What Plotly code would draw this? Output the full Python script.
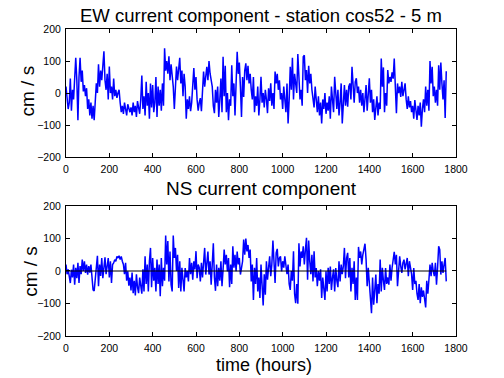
import plotly.graph_objects as go

step_hours = 5

ew_values = [
    20, -15, -50, -30, 45, -55, 10, -20, 30, 110,
    40, -85, 50, 110, 35, 70, 5, 25, -10, 15,
    -50, -20, -70, -30, -80, -40, -85, -10, 30, 0,
    90, 20, 70, 40, 96, 130, 40, 10, 60, -20,
    83, 0, 20, -20, 45, -10, 10, -15, 0, 10,
    -30, -60, -40, -65, -30, -55, -70, -35, -50, -60,
    -45, -70, -30, -60, -40, -75, -25, -55, -65, -20,
    55, -50, -10, -70, 35, -40, 0, -80, 30, -45,
    25, -60, -30, 50, -75, 20, -40, 10, -55, 30,
    -40, 140, 70, 100, 60, 115, 40, 90, 50, 20,
    -50, 30, 83, 40, 75, 110, 30, 70, -10, 60,
    20, -80, -20, -50, -10, -57, -30, 40, 78, 10,
    50, -20, -55, -30, -16, -57, 30, 67, 20, 60,
    82, 40, 100, 61, 45, 20, -40, -63, 10, -30,
    20, -75, -20, 45, -60, 113, -10, 85, -60, 0,
    -85, -20, -40, 87, -10, 30, -70, 10, 129, 60,
    95, 20, -75, 50, -12, 70, 93, 40, 85, 30,
    60, 10, -20, 50, -60, -10, -40, 20, -70, -20,
    51, -30, 0, -45, 10, -20, -63, 15, -25, 30,
    -40, 0, -50, 67, 30, 60, 10, 40, -20, 0,
    -50, 20, -30, -60, 30, -95, -20, 82, 10, 110,
    -20, 60, 30, 0, 122, 40, -20, 10, -40, 113,
    118, 40, 72, 0, 85, 30, 60, 10, -20, -45,
    20, -40, -60, -10, -70, -30, -95, -20, -50, 0,
    -65, -30, -55, -10, -80, 20, -40, -60, 51, -20,
    -50, 10, -70, -30, 30, -95, -20, 25, -40, 10,
    -43, 20, 30, -20, 82, 10, -30, 35, 46, 0,
    20, -30, 10, -40, 0, -60, -20, 25, -55, -10,
    46, -30, 10, -60, -20, -84, -40, -10, -70, -30,
    -50, 108, 20, 80, -60, 0, -40, 72, 30, 50,
    35, 65, 45, 108, 20, -63, 30, 0, 20, -12,
    35, -10, 10, 30, -20, -50, -10, -45, -25, -60,
    -40, -80, -22, -60, -84, -40, -70, -30, -105, -50,
    -20, -60, 20, -40, 10, -55, 100, 30, 82, -10,
    20, -30, 10, -40, 87, 10, 95, 30, -20, 40,
    -78, 68,
]

ns_values = [
    20, -10, 5, -22, -37, 4, -20, 20, -42, 10,
    -22, 25, -37, 15, -10, 35, 0, 30, -6, 20,
    -11, 15, -5, 20, -30, -58, -61, -20, 10, 47,
    -47, 20, -15, 40, -22, 10, 42, -10, 25, 40,
    -20, 30, -37, 20, 25, 35, 30, 45, 40, 47,
    35, 45, 30, 20, -10, 25, -30, -1, -45, -20,
    -60, -5, -68, -30, -75, -10, -50, -68, -20, -55,
    -70, 5, -63, 45, -40, 20, -63, 30, 71, -50,
    40, -30, 10, -63, 35, -40, 20, -78, 40, -47,
    10, -30, 109, 20, 92, -32, 60, -42, -63, 109,
    40, 71, 0, 50, -52, 30, -63, 10, -32, -63,
    9, -20, 0, -32, 40, -10, 25, -27, 30, 5,
    61, -22, 20, 10, -32, 25, -20, 15, 71, -11,
    40, 60, -11, 30, -42, 40, 85, -20, -61, 20,
    -47, 10, -30, 30, -47, 5, 66, 20, 50, -1,
    40, -50, 20, -40, 76, 10, 50, -1, 60, 20,
    40, -11, 20, 30, 97, 50, 100, 60, 80, 40,
    66, -32, 20, -89, 10, -40, 40, -63, -20, -83,
    20, -50, -106, -10, -73, 30, -27, 10, 45, -16,
    20, 94, 30, -37, 56, 68, 14, 40, 45, -1,
    30, 10, 45, 20, -10, 20, -40, -58, 0, -30,
    61, -70, -99, -40, -101, 85, 14, 60, 40, 76,
    20, 66, 102, -27, 94, 30, -10, 50, -32, 61,
    -20, 9, -47, 0, -30, 5, -83, -20, -63, -89,
    -1, -63, 10, -40, 14, -58, -20, 5, -63, 9,
    -30, -50, 30, -32, 20, -10, 15, 71, -22, 40,
    56, -20, 40, -63, 10, -40, 30, -89, -20, -89,
    74, 40, 60, 20, 50, 76, 84, 35, -47, 10,
    -30, -73, -130, -20, -104, -60, -11, -99, -40, -70,
    35, -63, 10, -30, -58, 9, -40, -20, -42, 20,
    -30, 10, 45, 59, 20, 50, -47, 9, 45, 15,
    -6, 25, 35, 5, 20, 40, -16, 30, 10, -10,
    -58, 9, -40, -30, -70, -89, -40, -99, -50, -80,
    -60, -89, -112, -30, -70, -27, 20, -16, 25, 0,
    -16, 25, -42, 10, 76, 66, -11, 30, -6, 20,
    40, -32,
]

x_ticks = [0, 200, 400, 600, 800, 1000, 1200, 1400, 1600, 1800]
y_ticks = [-200, -100, 0, 100, 200]

top_title = "EW current component - station cos52 - 5 m"
bottom_title = "NS current component"
y_label = "cm / s"
x_label = "time (hours)"

hours_ew = [i * step_hours for i in range(len(ew_values))]
hours_ns = [i * step_hours for i in range(len(ns_values))]

fig = go.Figure()
fig.add_trace(go.Scatter(x=hours_ew, y=ew_values, mode="lines",
                         line=dict(color="#0000FF", width=1.5), xaxis="x", yaxis="y",
                         showlegend=False, hoverinfo="skip"))
fig.add_trace(go.Scatter(x=hours_ns, y=ns_values, mode="lines",
                         line=dict(color="#0000FF", width=1.5), xaxis="x2", yaxis="y2",
                         showlegend=False, hoverinfo="skip"))
fig.add_trace(go.Scatter(x=[hours_ns[0], hours_ns[-1]], y=[0, 0], mode="lines",
                         line=dict(color="black", width=1.2), xaxis="x2", yaxis="y2",
                         showlegend=False, hoverinfo="skip"))

font_family = "Liberation Sans, Arial, sans-serif"
axis_common = dict(showline=True, linecolor="black", linewidth=1, mirror="ticks",
                   ticks="inside", ticklen=4, tickcolor="black", showgrid=False,
                   zeroline=False, automargin=False, ticklabelstandoff=2,
                   tickfont=dict(size=10.5, color="black", family=font_family))

# plot area on screen: x 66..456, y 29..336 (page body margin removed below)
fig.update_layout(
    width=504, height=378,
    margin=dict(l=66, r=48, t=29, b=42),
    paper_bgcolor="white", plot_bgcolor="white",
    font=dict(family=font_family, color="black"),
    xaxis=dict(domain=[0, 1], anchor="y", range=[0, 1800], tickvals=x_ticks, **axis_common),
    yaxis=dict(domain=[0.583, 1], anchor="x", range=[-200, 200], tickvals=y_ticks, **axis_common),
    xaxis2=dict(domain=[0, 1], anchor="y2", range=[0, 1800], tickvals=x_ticks, **axis_common),
    yaxis2=dict(domain=[0, 0.4235], anchor="x2", range=[-200, 200], tickvals=y_ticks, **axis_common),
    annotations=[
        dict(text=top_title, x=0.5, y=1.0456, xref="paper", yref="paper", xanchor="center",
             yanchor="middle", showarrow=False, font=dict(size=18.5, color="black")),
        dict(text=bottom_title, x=0.5, y=0.480, xref="paper", yref="paper", xanchor="center",
             yanchor="middle", showarrow=False, font=dict(size=19, color="black")),
        dict(text=y_label, x=-0.0987, y=0.798, xref="paper", yref="paper", xanchor="center",
             yanchor="middle", textangle=-90, showarrow=False, font=dict(size=19, color="black")),
        dict(text=y_label, x=-0.090, y=0.212, xref="paper", yref="paper", xanchor="center",
             yanchor="middle", textangle=-90, showarrow=False, font=dict(size=19, color="black")),
        dict(text=x_label, x=0.507, y=-0.0945, xref="paper", yref="paper", xanchor="center",
             yanchor="middle", showarrow=False, font=dict(size=18, color="black")),
    ],
)

fig.write_html("out.html", config={"displayModeBar": False},
               post_script="document.body.style.margin='0px'; document.body.style.padding='0px';")
